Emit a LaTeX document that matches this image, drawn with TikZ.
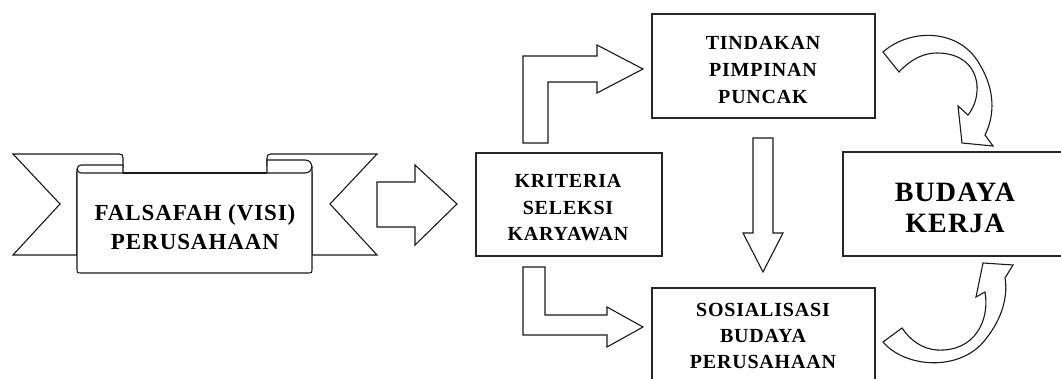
\documentclass[tikz,border=0pt]{standalone}
\usepackage{fontspec}
\setmainfont{Liberation Serif}
\newfontfamily\spc[LetterSpace=4]{Liberation Serif}
\begin{document}
\begin{tikzpicture}[x=1pt,y=-1pt,
  box/.style={draw=black!85, fill=white, line width=1.3pt, inner sep=0pt},
  blk/.style={draw=black!90, fill=white, line width=1.1pt, line join=miter},
  lbl/.style={align=center, inner sep=0pt, text=black}]
\useasboundingbox (0,0) rectangle (1061,379);
\clip (0,0) rectangle (1061,379);

% ---------- banner (scroll ribbon) ----------
\draw[blk] (13,154) -- (119,154) .. controls (122,154) and (123,155) .. (123,158)
  -- (123,173) -- (77,173) -- (77,255) -- (13,255) -- (60,204) -- cycle;
\draw[blk] (377,154) -- (271,154) .. controls (268,154) and (267,155) .. (267,158)
  -- (267,173) -- (312,173) -- (312,255) -- (377,255) -- (330,204) -- cycle;
\fill[white] (77,173) rectangle (312,273);
\draw[blk] (77,169) -- (77,268) .. controls (77,273) .. (82,273) -- (307,273)
  .. controls (312,273) .. (312,268) -- (312,166);
\draw[blk] (123,165) -- (81,165) .. controls (76,165) and (76,173) .. (81,173) -- (123,173) -- cycle;
\draw[blk] (267,160) -- (305,160) .. controls (314,160) and (314,173) .. (305,173) -- (267,173) -- cycle;
\draw[blk] (123,173) -- (267,173);
\node[lbl, font=\spc\bfseries\fontsize{23}{29}\selectfont] (falsafah) at (195,227)
  {FALSAFAH (VISI)\\PERUSAHAAN};

% ---------- boxes ----------
\node[box, minimum width=186, minimum height=103] (kriteria) at (569,204.5) {};
\node[box, minimum width=223, minimum height=104] (tindakan) at (763.5,66) {};
\node[box, minimum width=223, minimum height=110] (sosial) at (763.5,343) {};
\node[box, minimum width=232, minimum height=104] (budaya) at (959,204) {};

\node[lbl, font=\spc\bfseries\fontsize{20}{26.5}\selectfont] (kriteriaT) at (568,208)
  {KRITERIA\\SELEKSI\\KARYAWAN};
\node[lbl, font=\spc\bfseries\fontsize{20}{27}\selectfont] (tindakanT) at (763,70)
  {TINDAKAN\\PIMPINAN\\PUNCAK};
\node[lbl, font=\spc\bfseries\fontsize{20}{26}\selectfont] (sosialT) at (763,336)
  {SOSIALISASI\\BUDAYA\\PERUSAHAAN};
\node[lbl, font=\spc\bfseries\fontsize{28}{31}\selectfont] (budayaT) at (955,207.5)
  {BUDAYA\\KERJA};

% ---------- block arrows ----------
\draw[blk] (377,182) -- (415,182) -- (415,165) -- (457,204) -- (415,245) -- (415,227) -- (377,227) -- cycle;
\draw[blk] (523,143) -- (523,56) -- (597,56) -- (597,45) -- (643,69) -- (597,93) -- (597,82) -- (548,82) -- (548,143) -- cycle;
\draw[blk] (523,267) -- (545,267) -- (545,315) -- (607,315) -- (607,307) -- (643,327) -- (607,347) -- (607,335) -- (523,335) -- cycle;
\draw[blk] (753,138) -- (773,138) -- (773,233) -- (783,233) -- (763,272) -- (743,233) -- (753,233) -- cycle;

% ---------- curved arrows ----------
\draw[blk] (883,52) .. controls (910,28) and (960,28) .. (980,65)
  .. controls (995,90) and (995,115) .. (985,135) -- (993,146) -- (962,143) -- (958,106) -- (968,115)
  .. controls (972,110) and (978,100) .. (977,85)
  .. controls (975,65) and (960,53) .. (937,53)
  .. controls (925,53) and (912,58) .. (899,72) -- cycle;
\draw[blk] (883,342) .. controls (905,368) and (960,372) .. (985,340)
  .. controls (1003,318) and (1008,295) .. (1005,278) -- (1013,265) -- (983,263) -- (976,297) -- (985,292)
  .. controls (990,320) and (975,352) .. (937,350)
  .. controls (922,349) and (910,340) .. (902,328) -- cycle;
\end{tikzpicture}
\end{document}
